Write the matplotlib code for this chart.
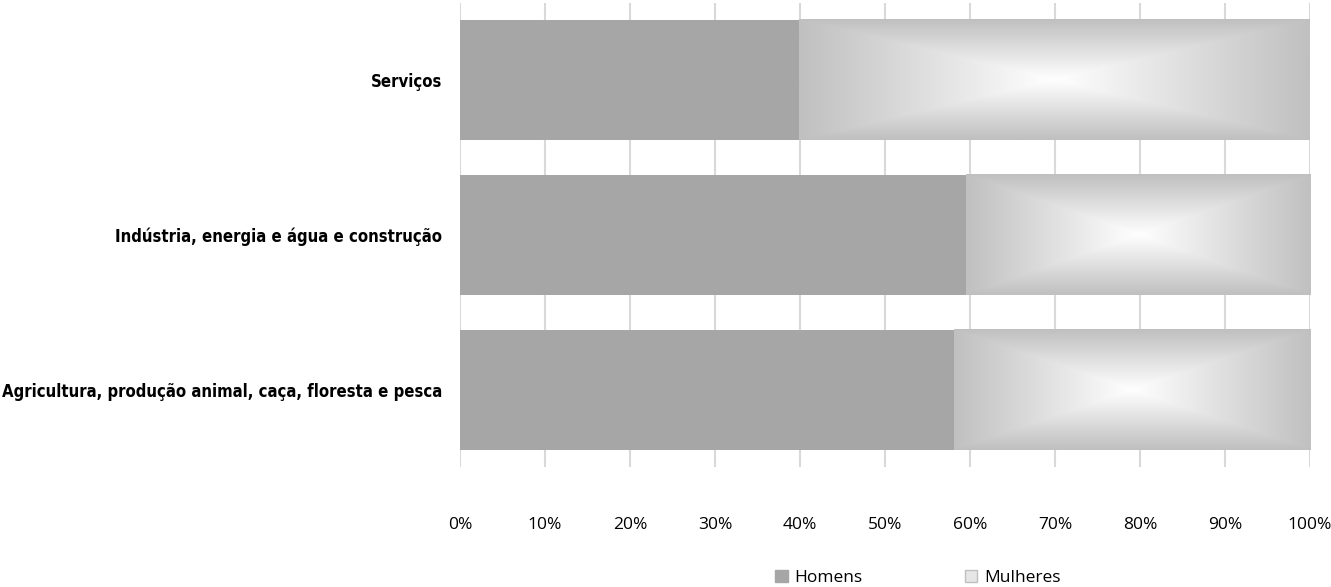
import matplotlib.pyplot as plt
import matplotlib.patches as mpatches
import numpy as np

categories = ["Agricultura, produção animal, caça, floresta e pesca",
              "Indústria, energia e água e construção",
              "Serviços"]
homens = [58.1, 59.5, 39.9]
mulheres = [100 - h for h in homens]
ticks = [0, 10, 20, 30, 40, 50, 60, 70, 80, 90, 100]

HOMENS_COLOR = "#a6a6a6"
EDGE_GRAY = np.array([192, 192, 192]) / 255.0
BAR_H = 0.777


def path_gradient(nx=300, ny=80):
    # rectangular "from centre" gradient: white in the middle, gray at the edges
    u = np.linspace(-1, 1, nx)
    v = np.linspace(-1, 1, ny)
    U, V = np.meshgrid(u, v)
    t = np.maximum(np.abs(U), np.abs(V))
    img = (1 - t)[..., None] * np.ones(3) + t[..., None] * EDGE_GRAY
    return img


def main():
    fig = plt.figure(figsize=(13.31, 5.87), dpi=100)
    ax = fig.add_axes([460 / 1331, 1 - 467 / 587, 850 / 1331, 464 / 587])

    y = np.arange(len(categories))
    ax.barh(y, homens, height=BAR_H, color=HOMENS_COLOR, zorder=2)
    bars = ax.barh(y, mulheres, left=homens, height=BAR_H, color="#c0c0c0", zorder=2)

    grad = path_gradient()
    for b in bars:
        x0, y0 = b.get_x(), b.get_y()
        ax.imshow(grad, extent=(x0, x0 + b.get_width(), y0, y0 + b.get_height()),
                  aspect="auto", interpolation="bilinear", zorder=3)

    ax.set_xlim(0, 100)
    ax.set_ylim(-0.5, len(categories) - 0.5)
    ax.set_xticks(ticks)
    ax.set_xticklabels([f"{t}%" for t in ticks], fontsize=12.5, family="Open Sans")
    ax.set_yticks(y)
    ax.set_yticklabels(categories, fontsize=12, fontweight="bold",
                       fontstretch="condensed", family="DejaVu Sans")
    ax.tick_params(length=0)
    ax.tick_params(axis="x", pad=36)
    ax.tick_params(axis="y", pad=13)
    ax.grid(axis="x", color="#d9d9d9", linewidth=1.5, zorder=0)
    for s in ax.spines.values():
        s.set_visible(False)

    handles = [mpatches.Patch(color=HOMENS_COLOR, label="Homens"),
               mpatches.Patch(facecolor="#e6e6e6", edgecolor="#c0c0c0", label="Mulheres")]
    fig.legend(handles=handles, loc="center", bbox_to_anchor=(918 / 1331, 1 - 578 / 587),
               ncol=2, frameon=False, prop={"family": "Open Sans", "size": 12.5},
               handlelength=0.7, handleheight=0.7, handletextpad=0.4, columnspacing=5.9)

    fig.savefig("out.png", dpi=100)


if __name__ == "__main__":
    main()
